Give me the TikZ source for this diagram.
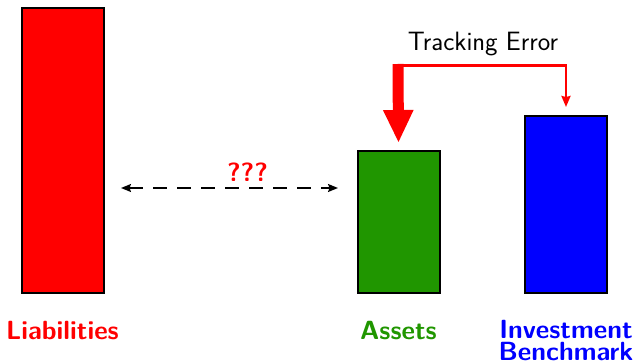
\documentclass[tikz,border=0pt]{standalone}
\usetikzlibrary{arrows.meta,calc}
\definecolor{barred}{RGB}{255,0,0}
\definecolor{bargreen}{RGB}{32,150,0}
\definecolor{barblue}{RGB}{0,0,255}
\begin{document}
\begin{tikzpicture}[x=1pt,y=-1pt,
  bar/.style={draw=black,line width=2pt,minimum width=82pt,inner sep=0pt,anchor=south},
  lbl/.style={font=\fontsize{26.3}{22}\selectfont\sffamily\bfseries,anchor=base,inner sep=0pt,align=center},
  thinred/.style={draw=barred,line width=2.2pt,-{Stealth[length=11pt,width=9pt,inset=1pt]}},
  thickred/.style={draw=barred,line width=11pt,-{Triangle[length=33pt,width=28pt]}},
  dasharrow/.style={draw=black,line width=1.4pt,dash pattern=on 14pt off 10pt,
    {Stealth[length=10pt,width=8pt,inset=1.5pt]}-{Stealth[length=10pt,width=8pt,inset=1.5pt]}}]
\useasboundingbox (0,0) rectangle (637,363);
% bars
\node[bar,fill=barred,minimum height=285pt] (liab) at (63,294) {};
\node[bar,fill=bargreen,minimum height=142pt] (assets) at (398.5,294) {};
\node[bar,fill=barblue,minimum height=177pt] (bench) at (566,294) {};
% labels under the bars
\node[lbl,text=barred] (liabl) at (62.5,339.3) {Liabilities};
\node[lbl,text=bargreen] (assetsl) at (398.5,339.3) {Assets};
\node[lbl,text=barblue,anchor=north] (benchl) at (566,320.5) {Investment\\Benchmark};
% gap between liabilities and assets
\coordinate (dl) at (121,188);
\coordinate (dr) at (338,188);
\draw[dasharrow] (dl) -- (dr);
\node[lbl,text=barred] (qq) at (247.5,181.5) {???};
% tracking error arrows
\coordinate (te) at (398,64);
\coordinate (tethin) at (398,65.5);
\node[font=\fontsize{26.5}{28}\selectfont\sffamily,anchor=base,inner sep=0pt] (tel) at (483,50.5) {Tracking Error};
\draw[thinred] (tethin) -| ($(bench.north)+(0,-8)$);
\draw[thickred] (te) -- ($(assets.north)+(0,-7)$);
\end{tikzpicture}
\end{document}
